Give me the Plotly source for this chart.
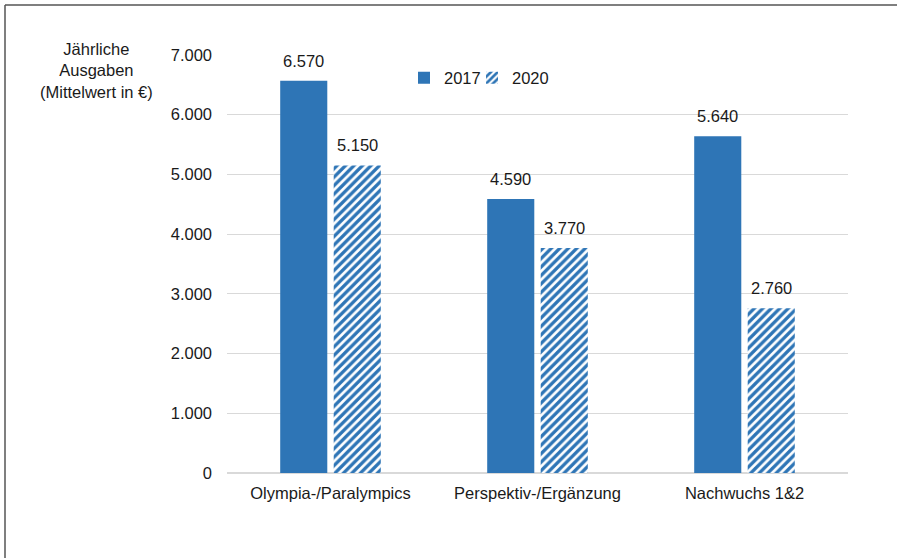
import plotly.graph_objects as go

categories = ["Olympia-/Paralympics", "Perspektiv-/Ergänzung", "Nachwuchs 1&2"]
years = ["2017", "2020"]
values_2017 = [6570, 4590, 5640]
values_2020 = [5150, 3770, 2760]

BLUE = "#2E75B6"
FONT = dict(family="Liberation Sans, Arial, sans-serif", size=16.5, color="#1a1a1a")

W, H = 897, 558
# plot area on screen (px); body margin is removed in post_script
PL, PR, PT, PB = 227, 848, 55, 473
pw, ph = PR - PL, PB - PT
L, T, R, B = PL, PT, W - PR, H - PB
SLOT = pw / len(categories) * (1 - 0.483) / 2  # px width of one bar slot


def px_x(x):
    return (x - PL) / pw


def px_y(y):
    return (PB - y) / ph


def legend_box(x):
    return dict(
        orientation="h", x=px_x(x), y=px_y(78),
        xanchor="left", yanchor="middle",
        font=FONT, itemwidth=30, bgcolor="rgba(0,0,0,0)",
    )


fig = go.Figure()
fig.add_bar(
    x=categories, y=values_2017, name=years[0], legend="legend",
    marker=dict(color=BLUE, line=dict(width=0)),
)
fig.add_bar(
    x=categories, y=values_2020, name=years[1], legend="legend2",
    marker=dict(
        color="white",
        line=dict(width=0),
        pattern=dict(shape="/", fgcolor=BLUE, bgcolor="white", fgopacity=1,
                     size=6, solidity=0.55, fillmode="overlay"),
    ),
)

# value labels above the bars
labels = []
for i, series in enumerate([values_2017, values_2020]):
    for cat, val in zip(categories, series):
        labels.append(dict(
            x=cat, y=val, xref="x", yref="y",
            text=f"{val:,}".replace(",", "."),
            showarrow=False, xanchor="center", yanchor="bottom",
            xshift=(i - 0.5) * SLOT, yshift=9, font=FONT,
        ))

fig.update_layout(
    width=W, height=H,
    margin=dict(l=L, r=R, t=T, b=B),
    paper_bgcolor="white", plot_bgcolor="white",
    separators=",.",
    font=FONT,
    barmode="group", bargap=0.483, bargroupgap=0.12,
    showlegend=True,
    legend=legend_box(404),
    legend2=legend_box(472),
    annotations=labels + [
        dict(
            text="Jährliche<br>Ausgaben<br>(Mittelwert in €)",
            xref="paper", yref="paper",
            x=px_x(96), y=px_y(70),
            xanchor="center", yanchor="middle",
            showarrow=False, font=FONT, align="center",
        )
    ],
    shapes=[
        dict(type="line", xref="paper", yref="paper",
             x0=px_x(5), x1=px_x(W + 5), y0=px_y(5), y1=px_y(5),
             line=dict(color="#555555", width=1.5)),
        dict(type="line", xref="paper", yref="paper",
             x0=px_x(5), x1=px_x(5), y0=px_y(5), y1=px_y(H + 5),
             line=dict(color="#555555", width=1.5)),
    ],
)
fig.update_yaxes(
    range=[0, 7000], dtick=1000, tickformat=",d",
    showgrid=True, gridcolor="#d9d9d9", gridwidth=1,
    zeroline=True, zerolinecolor="#d9d9d9", zerolinewidth=1.5,
    showline=False, ticks="", ticklabelstandoff=14,
    tickfont=FONT,
)
fig.update_xaxes(
    showline=False, ticks="", tickfont=FONT, showgrid=False,
    ticklabelstandoff=8,
)

fig.write_html(
    "out.html",
    config={"displayModeBar": False},
    post_script="document.body.style.margin='0';",
)
